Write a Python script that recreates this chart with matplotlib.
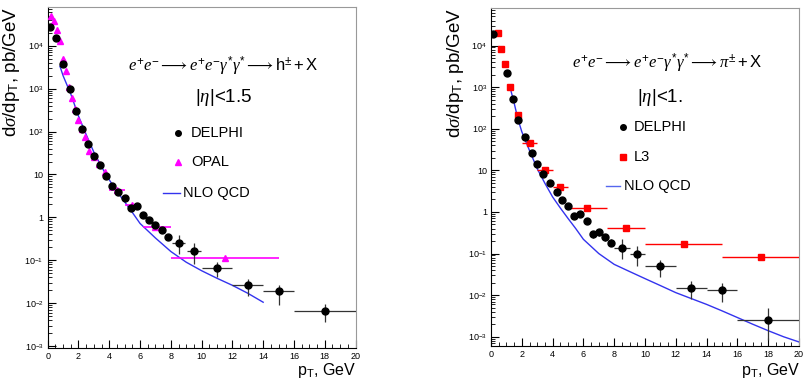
import matplotlib
matplotlib.use("Agg")
import matplotlib.pyplot as plt
import numpy as np
from matplotlib.ticker import FixedLocator, MultipleLocator, NullFormatter, LogLocator

plt.rcParams['font.family'] = ['Liberation Sans', 'DejaVu Sans']
plt.rcParams['mathtext.fontset'] = 'custom'
plt.rcParams['mathtext.rm'] = 'Liberation Sans'
plt.rcParams['mathtext.it'] = 'Liberation Serif:italic'

# ---------------- Left panel: h+- , |eta|<1.5 ----------------
delphi_h_x = [0.15, 0.55, 1.0, 1.45, 1.85, 2.25, 2.6, 3.0, 3.4, 3.8, 4.2, 4.6, 5.0, 5.4, 5.8,
              6.2, 6.6, 7.0, 7.4, 7.8, 8.5, 9.5, 11.0, 13.0, 15.0, 18.0]
delphi_h_y = [2.8e4, 1.5e4, 3.7e3, 1.0e3, 300, 115, 52, 27, 17, 9.4, 5.5, 4.0, 2.8, 1.65, 1.8,
              1.15, 0.85, 0.66, 0.52, 0.35, 0.25, 0.166, 0.066, 0.026, 0.019, 0.0065]
delphi_h_xerr = [0]*20 + [0.45, 0.45, 1.0, 1.0, 1.0, 2.0]
# lower / upper bounds of the error bars (0 = no bar)
delphi_h_lo = [0]*20 + [0.14, 0.083, 0.041, 0.015, 0.0091, 0.0037]
delphi_h_hi = [0]*20 + [0.38, 0.25, 0.093, 0.037, 0.026, 0.0095]

opal_x = [0.2, 0.4, 0.6, 0.8, 1.0, 1.2, 1.4, 1.6, 1.8, 2.0, 2.2, 2.4, 2.7, 3.0, 3.35, 3.7,
          4.5, 5.5, 7.0, 11.5]
opal_y = [5.0e4, 3.8e4, 2.3e4, 1.3e4, 5.0e3, 2.6e3, 1.1e3, 600, 330, 190, 115, 75, 36, 26, 17.5, 11.7,
          4.3, 1.9, 0.58, 0.11]
opal_xlo = [0]*16 + [0.5, 0.5, 0.8, 3.5]
opal_xhi = [0]*16 + [0.5, 0.5, 1.0, 3.5]

nlo_h_x = [0.8, 1.0, 1.5, 2.0, 2.5, 3.0, 3.5, 4.0, 4.5, 5.0, 5.5, 6.0, 7.0, 8.0, 9.0, 10.0, 11.0, 12.0, 13.0, 14.0]
nlo_h_y = [3300, 2000, 750, 230, 85, 33, 15, 7.5, 4.0, 2.3, 1.3, 0.72, 0.33, 0.16, 0.09, 0.057, 0.038, 0.026, 0.017, 0.0105]

# ---------------- Right panel: pi+- , |eta|<1 ----------------
delphi_pi_x = [0.15, 1.02, 1.45, 1.78, 2.2, 2.64, 3.0, 3.4, 3.83, 4.27, 4.63, 5.02, 5.41, 5.78, 6.21,
               6.6, 7.0, 7.4, 7.8, 8.5, 9.5, 11.0, 13.0, 15.0, 18.0]
delphi_pi_y = [1.9e4, 2.2e3, 530, 160, 62, 26, 14.6, 8.2, 5.0, 3.0, 1.9, 1.38, 0.8, 0.87, 0.62,
               0.29, 0.33, 0.245, 0.18, 0.137, 0.095, 0.049, 0.015, 0.0134, 0.0025]
delphi_pi_xerr = [0]*19 + [0.5, 0.5, 1.0, 1.0, 1.0, 2.0]
delphi_pi_lo = [0]*15 + [0.24, 0.27, 0.2, 0.15, 0.076, 0.049, 0.027, 0.0081, 0.0068, 0.00085]
delphi_pi_hi = [0]*15 + [0.35, 0.39, 0.3, 0.22, 0.23, 0.148, 0.072, 0.0224, 0.0195, 0.005]

l3_x = [0.45, 0.67, 0.91, 1.25, 1.75, 2.5, 3.5, 4.5, 6.25, 8.75, 12.5, 17.5]
l3_y = [2.0e4, 8.5e3, 3.6e3, 1.0e3, 210, 45, 10.2, 3.9, 1.25, 0.42, 0.17, 0.085]
l3_xerr = [0, 0, 0, 0, 0, 0.5, 0.5, 0.5, 1.25, 1.25, 2.5, 2.5]

nlo_pi_x = [1.25, 1.5, 1.75, 2.0, 2.5, 3.0, 3.5, 4.0, 4.5, 5.0, 5.5, 6.0, 7.0, 8.0, 9.0, 10.0, 11.0,
            12.0, 13.0, 14.0, 15.0, 16.0, 17.0, 18.0, 19.0, 20.0]
nlo_pi_y = [950, 420, 170, 85, 30, 11, 4.9, 2.3, 1.25, 0.7, 0.4, 0.22, 0.1, 0.055, 0.037, 0.025, 0.017,
            0.0115, 0.0083, 0.006, 0.0042, 0.0029, 0.002, 0.0014, 0.001, 0.00075]


def yerr_from_bounds(y, lo, hi):
    y = np.asarray(y, float)
    lo = np.asarray(lo, float)
    hi = np.asarray(hi, float)
    lo = np.where(lo > 0, lo, y)
    hi = np.where(hi > 0, hi, y)
    return [np.clip(y - lo, 0, None), np.clip(hi - y, 0, None)]


W, H = 806, 384
fig = plt.figure(figsize=(W/100, H/100), dpi=100)

def fx(px):
    return px / W

def fy(py):
    return 1 - py / H

ax1 = fig.add_axes([fx(47.7), fy(348), fx(355.5) - fx(47.7), fy(7) - fy(348)])
ax2 = fig.add_axes([fx(491), fy(346), fx(799) - fx(491), fy(8) - fy(346)])

ytick_vals = [1e-3, 1e-2, 1e-1, 1, 10, 1e2, 1e3, 1e4]
ytick_labs = [r'$10^{-3}$', r'$10^{-2}$', r'$10^{-1}$', '1', '10', r'$10^{2}$', r'$10^{3}$', r'$10^{4}$']

def style(ax, ylim):
    ax.set_xlim(0, 20)
    ax.set_yscale('log')
    ax.set_ylim(*ylim)
    ax.xaxis.set_major_locator(MultipleLocator(2))
    ax.xaxis.set_minor_locator(MultipleLocator(0.5))
    ax.yaxis.set_major_locator(FixedLocator(ytick_vals))
    ax.set_yticklabels(ytick_labs)
    ax.yaxis.set_minor_locator(LogLocator(base=10, subs=np.arange(2, 10)))
    ax.yaxis.set_minor_formatter(NullFormatter())
    ax.tick_params(which='both', direction='in', top=False, right=False, labelsize=6.5, pad=3)
    ax.tick_params(which='major', length=6, width=0.8)
    ax.tick_params(which='minor', length=3, width=0.6)
    for s in ax.spines.values():
        s.set_linewidth(0.8)
    ax.spines['top'].set_color('#999999')
    ax.spines['right'].set_color('#999999')

style(ax1, (9e-4, 8e4))
style(ax2, (6e-4, 8e4))

# Left panel
ax1.errorbar(opal_x, opal_y, xerr=[opal_xlo, opal_xhi], fmt='^', color='magenta',
             ms=4.2, elinewidth=1.2, capsize=0, zorder=3)
ax1.errorbar(delphi_h_x, delphi_h_y, xerr=delphi_h_xerr,
             yerr=yerr_from_bounds(delphi_h_y, delphi_h_lo, delphi_h_hi),
             fmt='o', color='black', ecolor='#333333', ms=5, elinewidth=0.9, capsize=0, zorder=4)
ax1.plot(nlo_h_x, nlo_h_y, color='#3333ee', lw=1.0, zorder=2)

# Right panel
ax2.errorbar(l3_x, l3_y, xerr=l3_xerr, fmt='s', color='red', ms=5,
             elinewidth=1.0, capsize=0, zorder=3)
ax2.errorbar(delphi_pi_x, delphi_pi_y, xerr=delphi_pi_xerr,
             yerr=yerr_from_bounds(delphi_pi_y, delphi_pi_lo, delphi_pi_hi),
             fmt='o', color='black', ecolor='#333333', ms=5, elinewidth=0.9, capsize=0, zorder=4)
ax2.plot(nlo_pi_x, nlo_pi_y, color='#3333ee', lw=1.0, zorder=2)

# Axis labels
ylab = r'd$\sigma$/dp$_{\mathrm{T}}$, pb/GeV'
fig.text(fx(12), fy(7), ylab, rotation=90, ha='center', va='top', fontsize=13.5)
fig.text(fx(456), fy(8), ylab, rotation=90, ha='center', va='top', fontsize=13.5)
xlab = r'p$_{\mathrm{T}}$, GeV'
fig.text(fx(356), fy(371), xlab, ha='right', va='center', fontsize=11.5)
fig.text(fx(800), fy(371), xlab, ha='right', va='center', fontsize=11.5)

# Process texts
fig.text(fx(223), fy(66), r'$e^{+}e^{-}\longrightarrow e^{+}e^{-}\gamma^{*}\gamma^{*}\longrightarrow \mathrm{h}^{\pm} + \mathrm{X}$',
         ha='center', va='center', fontsize=12)
fig.text(fx(224), fy(98), r'|$\eta$|<1.5', ha='center', va='center', fontsize=13.5)
fig.text(fx(667), fy(63), r'$e^{+}e^{-}\longrightarrow e^{+}e^{-}\gamma^{*}\gamma^{*}\longrightarrow \pi^{\pm} + \mathrm{X}$',
         ha='center', va='center', fontsize=12)
fig.text(fx(660), fy(97), r'|$\eta$|<1.', ha='center', va='center', fontsize=13.5)

# Legends (manual, ROOT-like)
def leg_marker(x, y, marker, color, size):
    fig.add_artist(plt.Line2D([fx(x)], [fy(y)], marker=marker, color=color, ms=size, ls='none',
                              transform=fig.transFigure))

def leg_line(x0, x1, y, color):
    fig.add_artist(plt.Line2D([fx(x0), fx(x1)], [fy(y), fy(y)], color=color, lw=1.0,
                              transform=fig.transFigure))

leg_marker(178, 133, 'o', 'black', 4)
fig.text(fx(191), fy(133), 'DELPHI', ha='left', va='center', fontsize=10.5)
leg_marker(178, 162, '^', 'magenta', 4)
fig.text(fx(191), fy(162), 'OPAL', ha='left', va='center', fontsize=10.5)
leg_line(163, 180, 193, '#3333ee')
fig.text(fx(183), fy(193), 'NLO QCD', ha='left', va='center', fontsize=10.5)

leg_marker(623, 127, 'o', 'black', 4)
fig.text(fx(634), fy(127), 'DELPHI', ha='left', va='center', fontsize=10.5)
leg_marker(623, 157, 's', 'red', 4.5)
fig.text(fx(634), fy(157), 'L3', ha='left', va='center', fontsize=10.5)
leg_line(606, 620, 186, '#5566ee')
fig.text(fx(624), fy(186), 'NLO QCD', ha='left', va='center', fontsize=10.5)

fig.savefig('out.png', dpi=100)
